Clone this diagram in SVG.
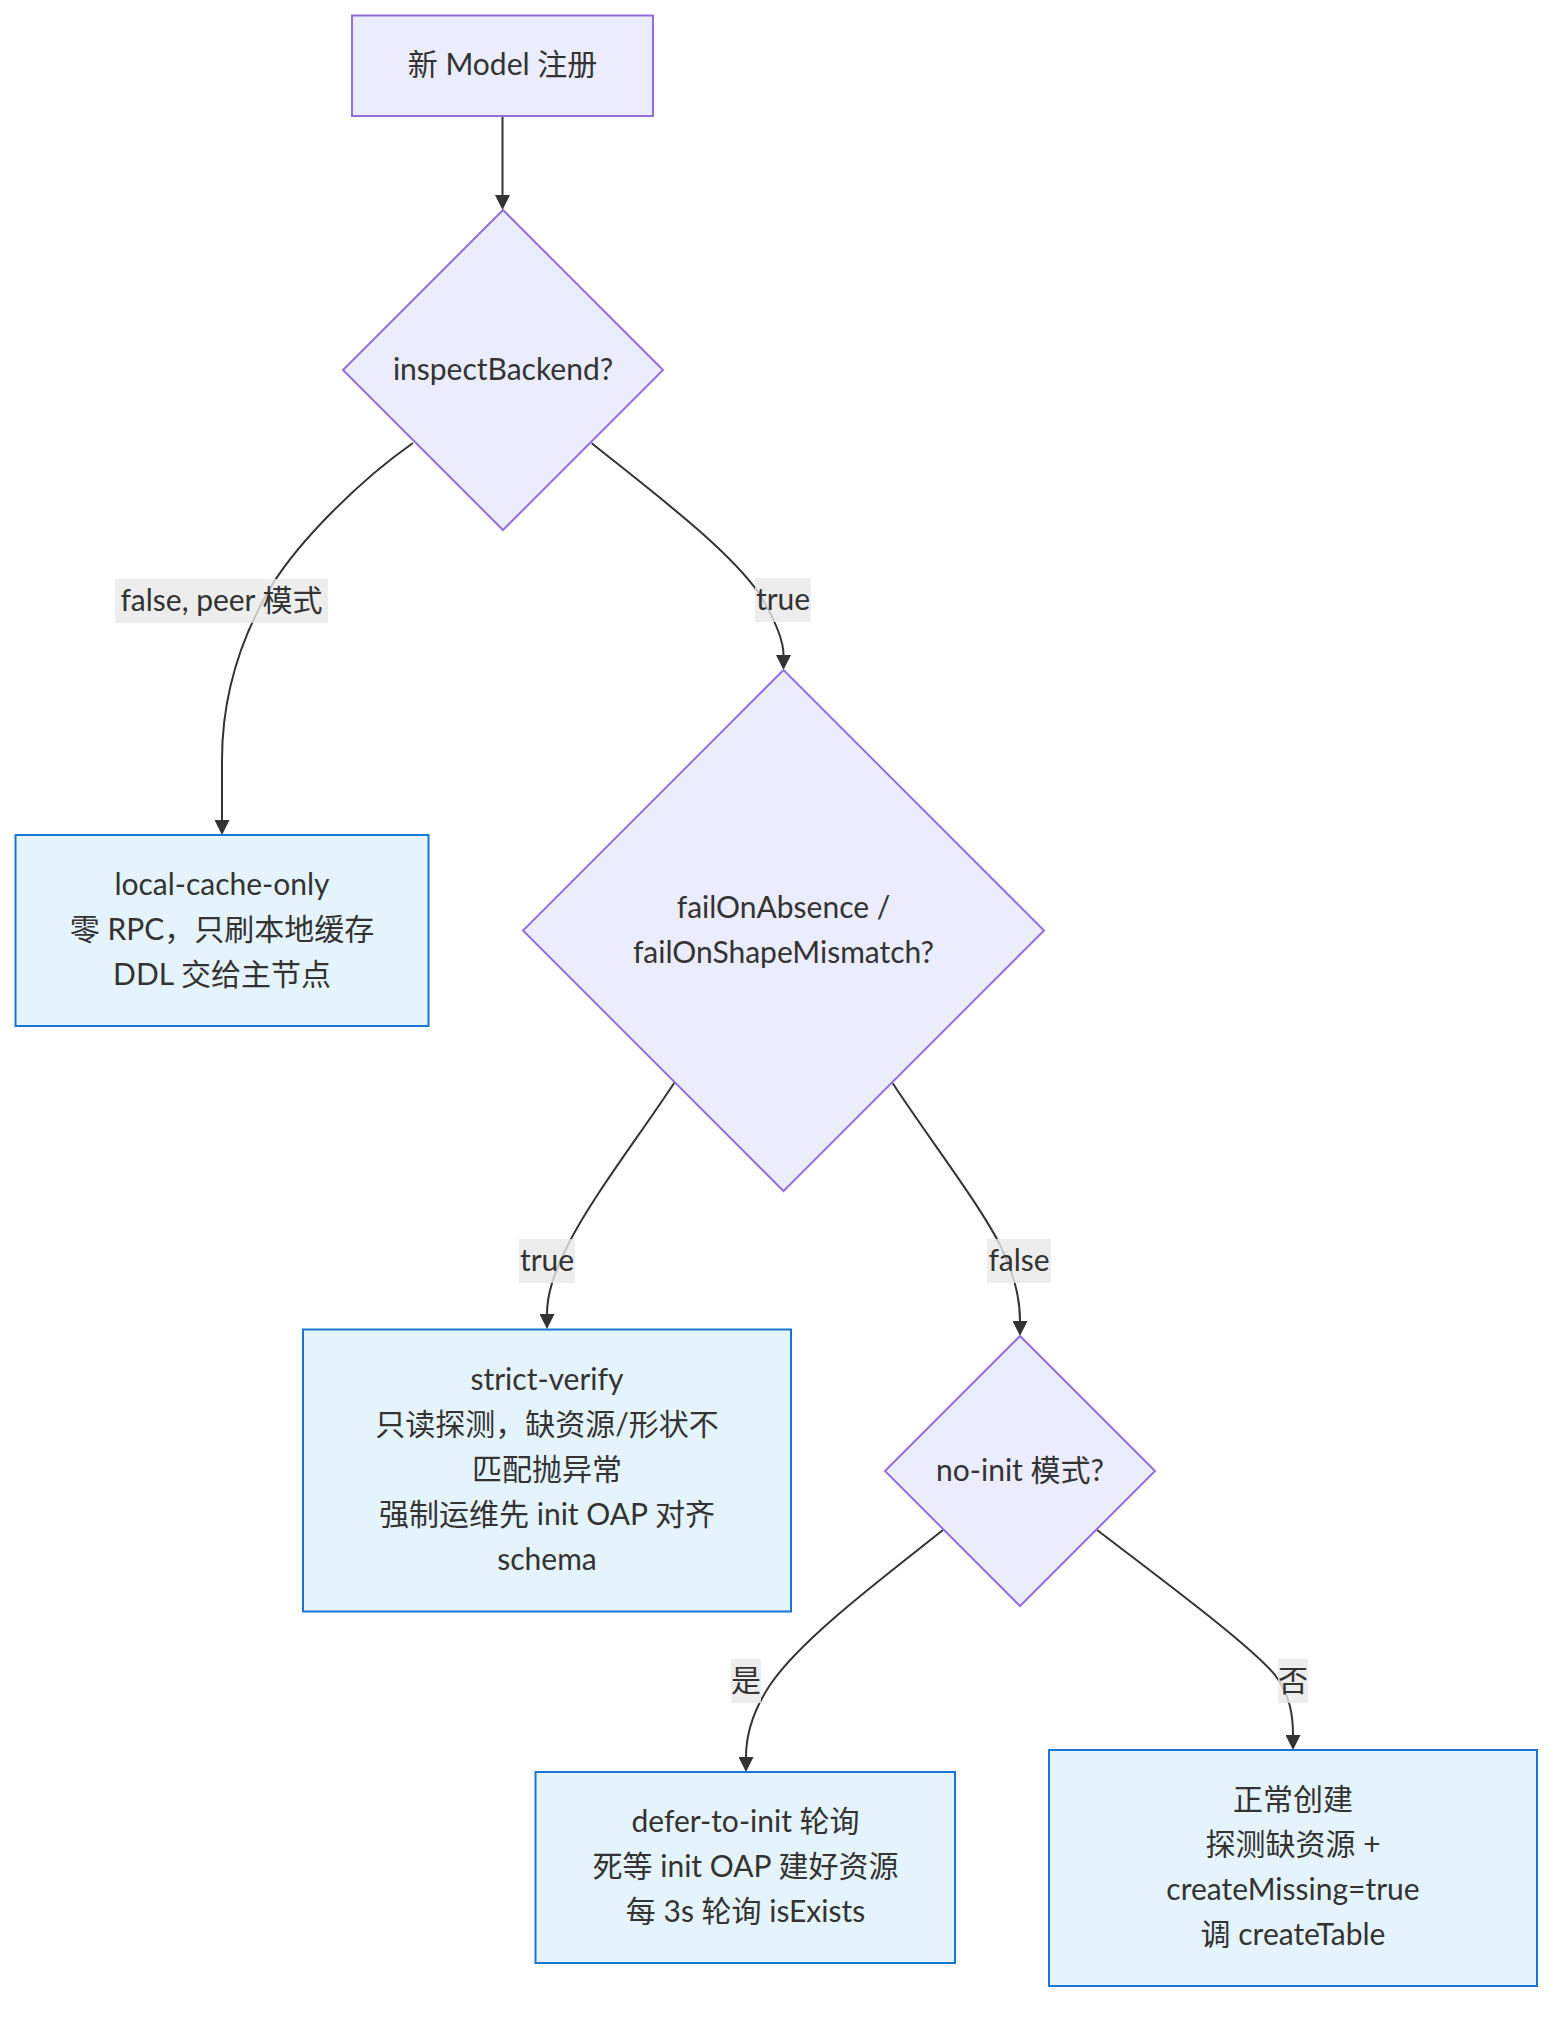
<svg xmlns="http://www.w3.org/2000/svg" width="1568" height="2024" viewBox="0 0 1568 2024">
<style>
text{font-family:Lato,"Noto Sans CJK SC",sans-serif;font-size:30px;fill:#333;text-anchor:middle;dominant-baseline:central}
.dec{fill:#ECECFF;stroke:#9370DB;stroke-width:2}
.box{fill:#E5F3FD;stroke:#1976D2;stroke-width:2}
.edge{fill:none;stroke:#333;stroke-width:2;marker-end:url(#arr)}
.lbl{fill:#E8E8E8;fill-opacity:0.8}
</style>
<defs>
<marker id="arr" viewBox="0 0 10 10" refX="0" refY="5" markerWidth="15" markerHeight="15" markerUnits="userSpaceOnUse" orient="auto">
<path d="M0,0 L10,5 L0,10 z" fill="#333"/>
</marker>
</defs>
<rect width="1568" height="2024" fill="#fff"/>
<g id="connectors">
<path class="edge" d="M502.5,116 L502.5,195"/>
<path class="edge" d="M413,443 C360,480 300,540 272,585 C245,630 222,690 222,760 L222,820"/>
<path class="edge" d="M591.7,443.3 C650,490 730,550 760,595 C775,620 783.5,640 783.5,655"/>
<path class="edge" d="M675,1081.7 C640,1135 590,1200 568,1245 C553,1275 547,1295 547,1314"/>
<path class="edge" d="M892.7,1083.3 C930,1140 980,1205 1000,1245 C1015,1275 1020,1300 1020,1321"/>
<path class="edge" d="M943,1530 C880,1580 800,1640 770,1685 C752,1712 746,1735 746,1757"/>
<path class="edge" d="M1097,1530 C1160,1578 1250,1645 1275,1675 C1290,1695 1293,1715 1293,1735"/>
</g>
<g id="edge-labels">
<rect class="lbl" x="115" y="579" width="213" height="44"/>
<text x="221.5" y="599">false, peer 模式</text>
<rect class="lbl" x="755" y="578" width="56" height="44"/>
<text x="783" y="598">true</text>
<rect class="lbl" x="519" y="1239" width="56" height="44"/>
<text x="547" y="1259">true</text>
<rect class="lbl" x="987" y="1239" width="64" height="44"/>
<text x="1019" y="1259">false</text>
<rect class="lbl" x="731" y="1659" width="30" height="44"/>
<text x="746" y="1679">是</text>
<rect class="lbl" x="1278" y="1659" width="30" height="44"/>
<text x="1293" y="1679">否</text>
</g>
<g id="start">
<rect class="dec" x="352" y="15.5" width="301" height="100.5"/>
<text x="502.5" y="63">新 Model 注册</text>
</g>
<g id="inspect">
<polygon class="dec" points="503,210 663,370 503,530 343,370"/>
<text x="503" y="368">inspectBackend?</text>
</g>
<g id="local">
<rect class="box" x="15.5" y="835" width="413" height="191"/>
<text x="222" y="883">local-cache-only</text>
<text x="222" y="928">零 RPC，只刷本地缓存</text>
<text x="222" y="973">DDL 交给主节点</text>
</g>
<g id="failon">
<polygon class="dec" points="783.5,670 1044,930.5 783.5,1191 523,930.5"/>
<text x="783.5" y="906">failOnAbsence /</text>
<text x="783.5" y="951">failOnShapeMismatch?</text>
</g>
<g id="strict">
<rect class="box" x="303" y="1329.5" width="488" height="282"/>
<text x="547" y="1378">strict-verify</text>
<text x="547" y="1423">只读探测，缺资源/形状不</text>
<text x="547" y="1468">匹配抛异常</text>
<text x="547" y="1513">强制运维先 init OAP 对齐</text>
<text x="547" y="1558">schema</text>
</g>
<g id="noinit">
<polygon class="dec" points="1020,1336 1155,1471 1020,1606 885,1471"/>
<text x="1020" y="1469">no-init 模式?</text>
</g>
<g id="defer">
<rect class="box" x="535.5" y="1772" width="419.5" height="191"/>
<text x="745.5" y="1820">defer-to-init 轮询</text>
<text x="745.5" y="1865">死等 init OAP 建好资源</text>
<text x="745.5" y="1910">每 3s 轮询 isExists</text>
</g>
<g id="normal">
<rect class="box" x="1049" y="1750" width="488" height="236"/>
<text x="1293" y="1798">正常创建</text>
<text x="1293" y="1843">探测缺资源 +</text>
<text x="1293" y="1888">createMissing=true</text>
<text x="1293" y="1933">调 createTable</text>
</g>
</svg>
